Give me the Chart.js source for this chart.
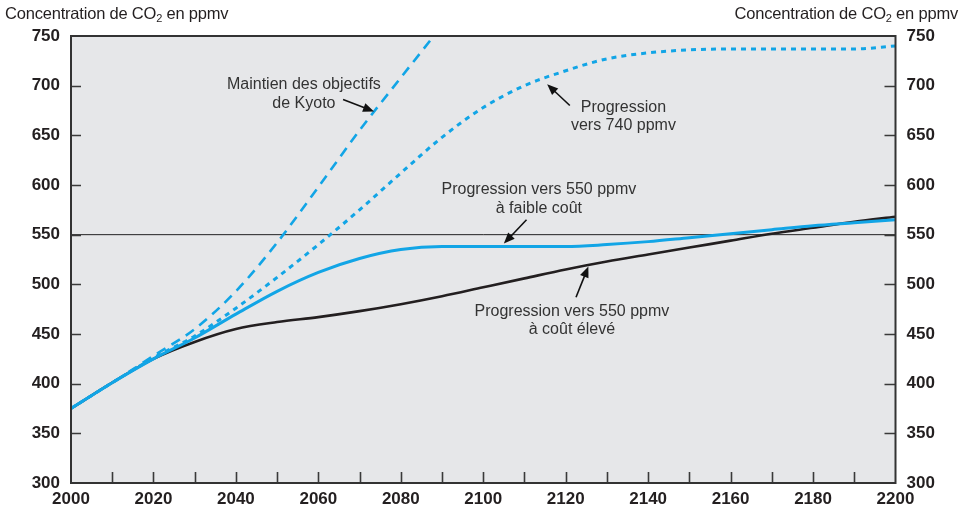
<!DOCTYPE html>
<html><head><meta charset="utf-8">
<script src="https://cdn.jsdelivr.net/npm/chart.js@4/dist/chart.umd.min.js"></script>
<style>
html,body{margin:0;padding:0;background:#fff;}
#wrap{position:relative;width:962px;height:514px;}
canvas{position:absolute;left:0;top:0;}
.ttl{position:absolute;top:4px;font-family:"Liberation Sans",Arial,sans-serif;font-size:16.5px;color:#231f20;white-space:nowrap;letter-spacing:-0.2px;}
.ttl sub{font-size:11px;vertical-align:-3px;line-height:0;}
</style></head>
<body>
<div id="wrap">
<canvas id="c" width="962" height="514"></canvas>
<div class="ttl" style="left:5px;">Concentration de CO<sub>2</sub> en ppmv</div>
<div class="ttl" style="right:4px;">Concentration de CO<sub>2</sub> en ppmv</div>
</div>
<script>
// ---- data ----
const years = [2000,2010,2020,2030,2040,2050,2060,2070,2080,2090,2100,2110,2120,2130,2140,2150,2160,2170,2180,2190,2200];
const highCost = [375,401,425,442,455,462,467,473,480,488,497,506,515,523,530,537,544,551,557,563,568];
const lowCost  = [375,401,425,446,470,493,512,526,535,538,538,538,538,540,543,547,551,555,559,562,565];
const toward740= [375,401,426,448,476,507,540,575,612,648,678,700,715,727,733,736,737,737,737,737,740];
const kyotoYears = [2000,2010,2020,2030,2040,2050,2060,2070,2080,2088];
const kyoto    = [375,401,428,455,493,542,598,655,708,750];
const refYears = [2000,2200];
const ref550   = [550,550];
const yTicks = [300,350,400,450,500,550,600,650,700,750];
const xLabelYears = [2000,2020,2040,2060,2080,2100,2120,2140,2160,2180,2200];

const BLUE = '#12a5e6', BLACK = '#231f20';
const pts = (xs, ys) => xs.map((x,i)=>({x:x,y:ys[i]}));

const annotations = [
  {lines:['Maintien des objectifs','de Kyoto'], x:2056.5, y:701, arrow:[2066,686,2073.5,674]},
  {lines:['Progression','vers 740 ppmv'], x:2134, y:678, arrow:[2121,680,2115.5,701.5]},
  {lines:['Progression vers 550 ppmv','à faible coût'], x:2113.5, y:595, arrow:[2110.5,565,2105,541]},
  {lines:['Progression vers 550 ppmv','à coût élevé'], x:2121.5, y:473, arrow:[2122.5,487,2125.5,518]}
];

const deco = {
  id:'deco',
  beforeDraw(chart){
    const {ctx, chartArea:a} = chart;
    ctx.save(); ctx.fillStyle='#e6e7e9';
    ctx.fillRect(a.left,a.top,a.right-a.left,a.bottom-a.top); ctx.restore();
  },
  afterDatasetsDraw(chart){
    const {ctx, chartArea:a, scales} = chart;
    const xs = scales.x, ys = scales.y;
    ctx.save();
    ctx.strokeStyle='#3a3a3a'; ctx.lineWidth=1.6;
    ctx.beginPath();
    for(let yr=2010; yr<2200; yr+=10){ const px=Math.round(xs.getPixelForValue(yr))+0.5; ctx.moveTo(px,a.bottom); ctx.lineTo(px,a.bottom-11); }
    yTicks.forEach(v=>{ if(v===300||v===750) return; const py=Math.round(ys.getPixelForValue(v))+0.5;
      ctx.moveTo(a.left,py); ctx.lineTo(a.left+10,py); ctx.moveTo(a.right,py); ctx.lineTo(a.right-11,py); });
    ctx.stroke();
    ctx.strokeStyle='#333'; ctx.lineWidth=2;
    ctx.strokeRect(a.left,a.top,a.right-a.left,a.bottom-a.top);
    ctx.fillStyle='#333'; ctx.font='16px "Liberation Sans", Arial, sans-serif';
    ctx.textAlign='center'; ctx.textBaseline='middle';
    annotations.forEach(an=>{
      const cx = xs.getPixelForValue(an.x), cy = ys.getPixelForValue(an.y);
      an.lines.forEach((t,i)=>ctx.fillText(t,cx,cy+i*18.5));
      const [x1,y1,x2,y2]=an.arrow;
      const p1x=xs.getPixelForValue(x1), p1y=ys.getPixelForValue(y1);
      const p2x=xs.getPixelForValue(x2), p2y=ys.getPixelForValue(y2);
      const ang=Math.atan2(p2y-p1y,p2x-p1x);
      const hl=11, hw=4.5;
      ctx.strokeStyle='#111'; ctx.lineWidth=1.6;
      ctx.beginPath(); ctx.moveTo(p1x,p1y);
      ctx.lineTo(p2x-Math.cos(ang)*hl*0.8,p2y-Math.sin(ang)*hl*0.8); ctx.stroke();
      ctx.fillStyle='#111';
      ctx.beginPath(); ctx.moveTo(p2x,p2y);
      ctx.lineTo(p2x-Math.cos(ang)*hl-Math.sin(ang)*hw, p2y-Math.sin(ang)*hl+Math.cos(ang)*hw);
      ctx.lineTo(p2x-Math.cos(ang)*hl+Math.sin(ang)*hw, p2y-Math.sin(ang)*hl-Math.cos(ang)*hw);
      ctx.closePath(); ctx.fill();
      ctx.fillStyle='#333';
    });
    ctx.restore();
  }
};

const tickFont = {family:'"Liberation Sans", Arial, sans-serif', size:17, weight:'bold'};
new Chart(document.getElementById('c'), {
  type:'line',
  data:{datasets:[
    {data:pts(years,lowCost), borderColor:BLUE, borderWidth:3, order:1},
    {data:pts(years,toward740), borderColor:BLUE, borderWidth:3, borderDash:[5,5], order:2},
    {data:pts(kyotoYears,kyoto), borderColor:BLUE, borderWidth:2.6, borderDash:[10,7], order:3},
    {data:pts(years,highCost), borderColor:BLACK, borderWidth:2.6, order:4},
    {data:pts(refYears,ref550), borderColor:'#222', borderWidth:1, tension:0, order:5}
  ]},
  options:{
    responsive:false, animation:false, devicePixelRatio:1,
    layout:{padding:{top:36,left:0,right:0,bottom:0}},
    elements:{point:{radius:0}, line:{cubicInterpolationMode:'monotone', fill:false}},
    plugins:{legend:{display:false}, tooltip:{enabled:false}},
    scales:{
      x:{type:'linear', min:2000, max:2200, position:'bottom',
        grid:{display:false, drawTicks:false}, border:{display:false},
        afterFit(s){ s.height=31; },
        ticks:{stepSize:20, autoSkip:false, maxRotation:0, padding:6, color:'#231f20', font:tickFont,
          callback:v=>xLabelYears.includes(v)?String(v):''}},
      y:{type:'linear', min:300, max:750, position:'left',
        grid:{display:false, drawTicks:false}, border:{display:false},
        afterFit(s){ s.width=71; },
        afterBuildTicks(s){ s.ticks = yTicks.map(v=>({value:v})); },
        ticks:{padding:11, color:'#231f20', font:tickFont}},
      y2:{type:'linear', min:300, max:750, position:'right',
        grid:{display:false, drawTicks:false}, border:{display:false},
        afterFit(s){ s.width=66.5; },
        afterBuildTicks(s){ s.ticks = yTicks.map(v=>({value:v})); },
        ticks:{padding:11, color:'#231f20', font:tickFont}}
    }
  },
  plugins:[deco]
});
</script>
</body></html>
